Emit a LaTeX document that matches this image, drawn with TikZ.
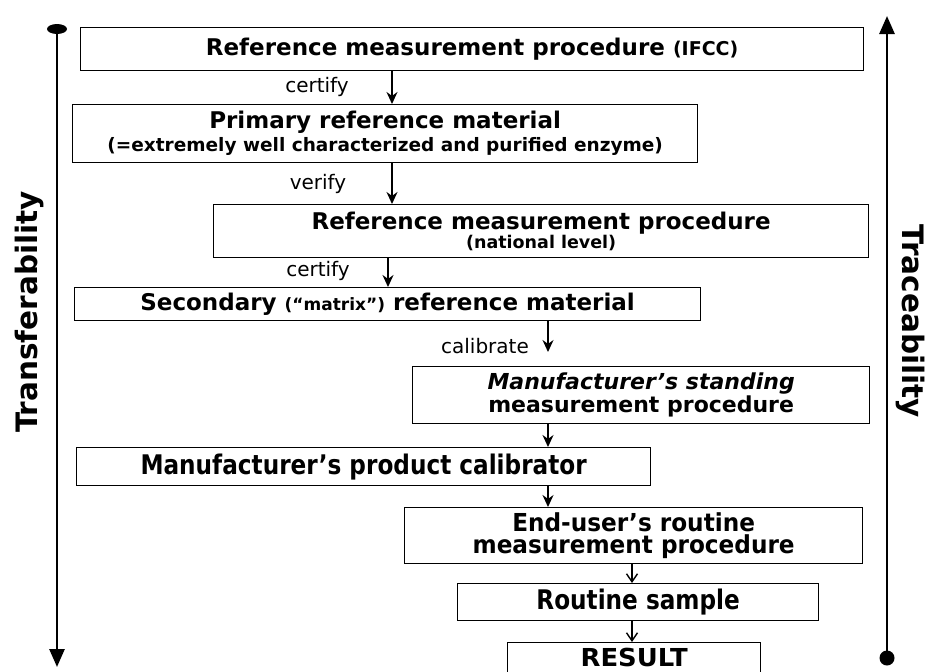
\documentclass[tikz,border=0pt]{standalone}
\usepackage{fontspec}
\setmainfont{DejaVu Sans}
\usetikzlibrary{arrows.meta}
\newcommand{\bigf}{\fontsize{23}{26}\selectfont\bfseries}
\newcommand{\subf}[2]{\fontsize{#1}{#2}\selectfont\bfseries}
\newcommand{\lblf}{\fontsize{20}{22}\selectfont}
\newcommand{\cnd}[1]{\scalebox{1.03}[1.2]{#1}}
\newcommand{\cndb}[1]{\scalebox{1.03}[1.1]{#1}}
\tikzset{
  box/.style={draw, line width=1.3pt, inner sep=0pt, align=center, anchor=north west},
  arr/.style={line width=1.4pt, -{Stealth[length=12pt,width=11pt]}},
  barb/.style={line width=1.4pt, -{Straight Barb[length=8pt,width=11pt]}},
  axis/.style={line width=2.8pt},
  lbl/.style={font=\lblf, inner sep=0pt},
  side/.style={font=\fontsize{29.5}{32}\selectfont\bfseries, inner sep=0pt}
}
\begin{document}
\begin{tikzpicture}[x=1pt,y=-1pt]
\useasboundingbox (0,0) rectangle (927,672);
\clip (0,0) rectangle (927,672);
\fill[white] (0,0) rectangle (927,672);
% axes
\coordinate (ltop) at (57,29);
\coordinate (lbot) at (57,667);
\coordinate (rtop) at (887,16);
\coordinate (rbot) at (887,658);
\draw[axis, -{Triangle[length=18pt,width=15pt]}] (ltop) -- (lbot);
\fill (ltop) ellipse (10pt and 5pt);
\draw[axis, -{Triangle[length=18pt,width=15pt]}] (rbot) -- (rtop);
\fill (rbot) circle (7.5pt);
\node[side, rotate=90] (tr) at (29,312) {Transferability};
\node[side, rotate=-90] (tc) at (911,321) {Traceability};
% boxes
\node[box, minimum width=783pt, minimum height=43pt] (b1) at (80,27)
  {\bigf Reference measurement procedure {\subf{19}{21}(IFCC)}};
\node[box, minimum width=625pt, minimum height=58pt] (b2) at (72,104)
  {\bigf Primary reference material\\[3pt]\subf{18.5}{22}(=extremely well characterized and purified enzyme)};
\node[box, minimum width=655pt, minimum height=53pt] (b3) at (213,204)
  {\bigf Reference measurement procedure\\\subf{17.5}{18.5}(national level)};
\node[box, minimum width=626pt, minimum height=33pt] (b4) at (74,287)
  {\bigf Secondary {\subf{17}{19}(``matrix'')} reference material};
\node[box, minimum width=457pt, minimum height=57pt] (b5) at (412,366)
  {\subf{22}{22}\itshape Manufacturer's standing\\\subf{22}{22}measurement procedure};
\node[box, minimum width=574pt, minimum height=38pt] (b6) at (76,447)
  {\subf{22.5}{24}\cnd{Manufacturer's product calibrator}};
\node[box, minimum width=458pt, minimum height=56pt] (b7) at (404,507)
  {\subf{22.5}{24}\cndb{End-user's routine}\\[1pt]\subf{22.5}{24}\cndb{measurement procedure}};
\node[box, minimum width=361pt, minimum height=37pt] (b8) at (457,583)
  {\subf{22.5}{24}\cnd{Routine sample}};
\node[box, minimum width=253pt, minimum height=30pt] (b9) at (507,642)
  {\subf{22.5}{24}\scalebox{1.15}[1.1]{RESULT}};
% arrow x positions
\coordinate (xa) at (392,0);
\coordinate (xb) at (388,0);
\coordinate (xc) at (548,0);
\coordinate (xd) at (632,0);
\draw[arr] (b1.south -| xa) -- (b2.north -| xa);
\draw[arr] (b2.south -| xa) -- (b3.north -| xa);
\draw[arr] (b3.south -| xb) -- (b4.north -| xb);
\draw[arr] (b4.south -| xc) -- ([yshift=14pt]b5.north -| xc);
\draw[arr] (b5.south -| xc) -- (b6.north -| xc);
\draw[arr] (b6.south -| xc) -- (b7.north -| xc);
\draw[barb] (b7.south -| xd) -- (b8.north -| xd);
\draw[barb] (b8.south -| xd) -- (b9.north -| xd);
% labels
\node[lbl] (l1) at (317,87) {certify};
\node[lbl] (l2) at (318,184) {verify};
\node[lbl] (l3) at (318,271) {certify};
\node[lbl] (l4) at (485,346) {calibrate};
\end{tikzpicture}
\end{document}
